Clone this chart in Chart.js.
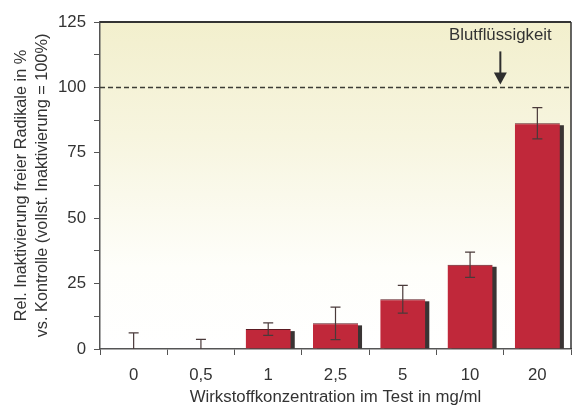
<!DOCTYPE html>
<html>
<head>
<meta charset="utf-8">
<script src="https://cdn.jsdelivr.net/npm/chart.js@4"></script>
<style>
  html, body { margin: 0; padding: 0; background: #fff; }
  #wrap { width: 577px; height: 415px; }
</style>
</head>
<body>
<div id="wrap"><canvas id="chart"></canvas></div>
<script>
// data
const concentrations = ['0', '0,5', '1', '2,5', '5', '10', '20'];
const inactivation = [0, 0, 7.6, 9.8, 19, 32.2, 86.3];
const errors = [6.2, 3.7, 2.4, 6.2, 5.3, 4.8, 6];
const referenceValue = 100;
const referenceLabel = 'Blutflüssigkeit';

const fontFamily = '"Liberation Sans", Arial, sans-serif';
const fontSize = 16.8;
const textColor = '#333';

// yellow-to-white background inside the plot
const backgroundPlugin = {
    id: 'background',
    beforeDraw(chart) {
        const { ctx, chartArea: a } = chart;
        ctx.save();
        ctx.fillStyle = '#fff';
        ctx.fillRect(0, 0, chart.width, chart.height);
        const g = ctx.createLinearGradient(0, a.top, 0, a.bottom);
        g.addColorStop(0, '#f2efcd');
        g.addColorStop(0.35, '#f7f5df');
        g.addColorStop(0.75, '#fefefa');
        g.addColorStop(1, '#ffffff');
        ctx.fillStyle = g;
        ctx.fillRect(a.left, a.top, a.right - a.left, a.bottom - a.top);
        ctx.restore();
    }
};

// dark drop shadow behind each bar
const shadowPlugin = {
    id: 'barShadow',
    beforeDatasetsDraw(chart) {
        const { ctx } = chart;
        const meta = chart.getDatasetMeta(0);
        ctx.save();
        ctx.fillStyle = '#3a3434';
        meta.data.forEach(bar => {
            const p = bar.getProps(['x', 'y', 'base', 'width'], true);
            if (p.base - p.y < 1) return;
            ctx.fillRect(p.x - p.width / 2 + 4, p.y + 2, p.width, p.base - p.y - 2);
        });
        ctx.restore();
    }
};

// error bars, frame, reference line and arrow
const overlayPlugin = {
    id: 'overlay',
    afterDatasetsDraw(chart) {
        const { ctx, chartArea: a, scales: { x, y } } = chart;
        ctx.save();

        // error bars
        ctx.strokeStyle = '#4a3a3a';
        ctx.lineWidth = 1.2;
        inactivation.forEach((v, i) => {
            const cx = x.getPixelForValue(i);
            const top = y.getPixelForValue(v + errors[i]);
            const bottom = y.getPixelForValue(Math.max(0, v - errors[i]));
            ctx.beginPath();
            ctx.moveTo(cx, bottom);
            ctx.lineTo(cx, top);
            ctx.moveTo(cx - 5, top);
            ctx.lineTo(cx + 5, top);
            if (v - errors[i] > 0) {
                ctx.moveTo(cx - 5, bottom);
                ctx.lineTo(cx + 5, bottom);
            }
            ctx.stroke();
        });

        // top and right frame
        ctx.strokeStyle = '#333';
        ctx.lineWidth = 2;
        ctx.beginPath();
        ctx.moveTo(a.left, a.top);
        ctx.lineTo(a.right, a.top);
        ctx.stroke();
        ctx.lineWidth = 1.5;
        ctx.beginPath();
        ctx.moveTo(a.right, a.top);
        ctx.lineTo(a.right, a.bottom);
        ctx.stroke();

        // dashed reference line
        const ry = y.getPixelForValue(referenceValue);
        ctx.strokeStyle = '#3d3d35';
        ctx.lineWidth = 1.5;
        ctx.setLineDash([5, 3]);
        ctx.beginPath();
        ctx.moveTo(a.left, ry);
        ctx.lineTo(a.right, ry);
        ctx.stroke();
        ctx.setLineDash([]);

        // arrow and label
        const ax = x.getPixelForValue(5.45);
        ctx.strokeStyle = '#2e2e2e';
        ctx.fillStyle = '#2e2e2e';
        ctx.lineWidth = 2;
        ctx.beginPath();
        ctx.moveTo(ax, ry - 36);
        ctx.lineTo(ax, ry - 14);
        ctx.stroke();
        ctx.beginPath();
        ctx.moveTo(ax - 6.5, ry - 15);
        ctx.lineTo(ax + 6.5, ry - 15);
        ctx.lineTo(ax, ry - 3);
        ctx.closePath();
        ctx.fill();

        ctx.font = fontSize + 'px ' + fontFamily;
        ctx.fillStyle = textColor;
        ctx.textAlign = 'center';
        ctx.textBaseline = 'middle';
        ctx.fillText(referenceLabel, ax, ry - 52);

        ctx.restore();
    }
};

new Chart(document.getElementById('chart'), {
    type: 'bar',
    data: {
        labels: concentrations,
        datasets: [{
            label: 'Rel. Inaktivierung',
            data: inactivation,
            backgroundColor: '#c0283a',
            borderColor: '#5c1a22',
            borderWidth: { top: 1, left: 0, right: 0, bottom: 0 },
            borderSkipped: false,
            barPercentage: 0.67,
            categoryPercentage: 1
        }]
    },
    options: {
        responsive: true,
        maintainAspectRatio: false,
        animation: false,
        layout: { padding: { top: 22, right: 6, left: 0, bottom: 0 } },
        plugins: {
            legend: { display: false },
            tooltip: { enabled: false }
        },
        scales: {
            x: {
                afterFit: scale => { scale.height = 66; },
                grid: {
                    display: true,
                    drawOnChartArea: false,
                    offset: true,
                    tickLength: 6,
                    color: '#555'
                },
                border: { color: '#555', width: 1.5 },
                ticks: {
                    color: textColor,
                    font: { family: fontFamily, size: fontSize },
                    padding: 10
                },
                title: {
                    display: true,
                    text: 'Wirkstoffkonzentration im Test in mg/ml',
                    color: textColor,
                    font: { family: fontFamily, size: fontSize, lineHeight: 1.25 },
                    padding: { top: 0, bottom: 7 }
                }
            },
            y: {
                min: 0,
                max: 125,
                afterFit: scale => { scale.width = 100; },
                grid: {
                    display: true,
                    drawOnChartArea: false,
                    tickLength: 6,
                    color: '#555'
                },
                border: { color: '#555', width: 1.5 },
                ticks: {
                    stepSize: 12.5,
                    autoSkip: false,
                    color: textColor,
                    font: { family: fontFamily, size: fontSize },
                    padding: 8,
                    callback: v => (v % 25 === 0 ? v : '')
                },
                title: {
                    display: true,
                    text: ['Rel. Inaktivierung freier Radikale in %', 'vs. Kontrolle (vollst. Inaktivierung = 100%)'],
                    color: textColor,
                    font: { family: fontFamily, size: 16.3, lineHeight: 1.28 },
                    padding: { top: 11.5, bottom: 0 }
                }
            }
        }
    },
    plugins: [backgroundPlugin, shadowPlugin, overlayPlugin]
});
</script>
</body>
</html>
